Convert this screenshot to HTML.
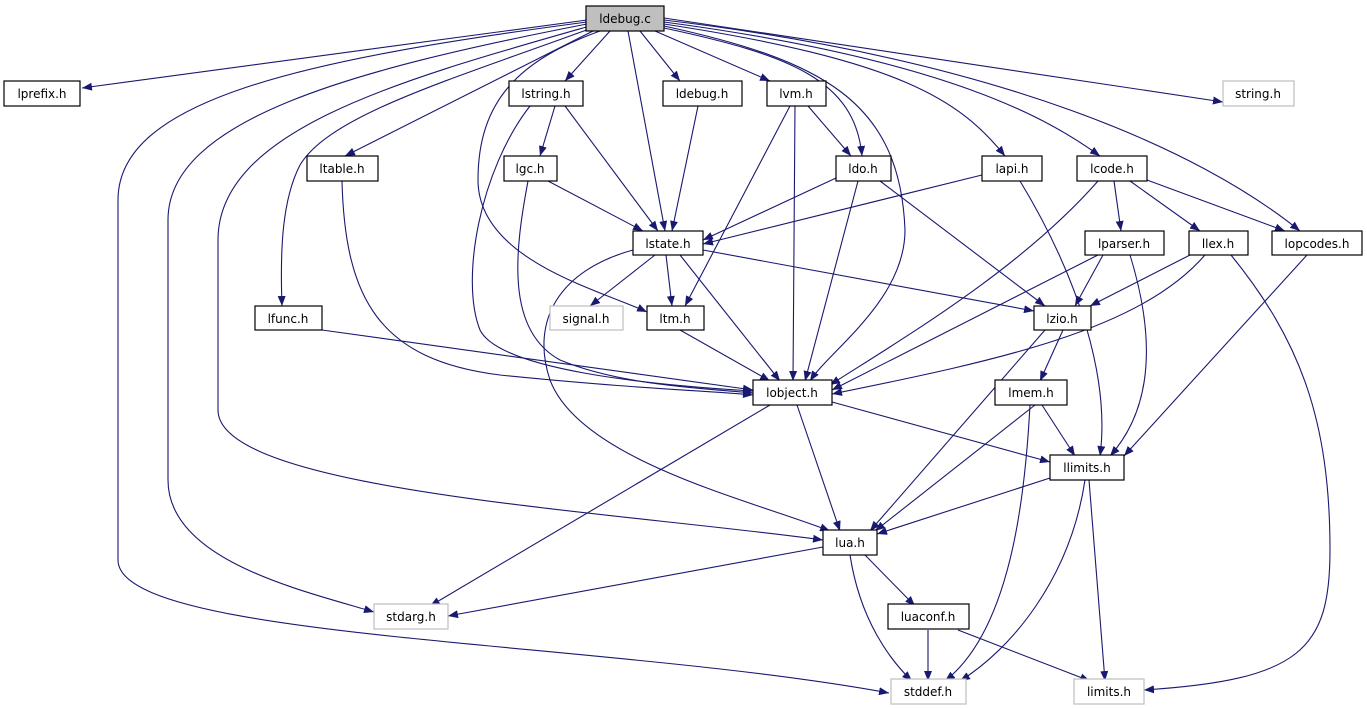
<!DOCTYPE html>
<html><head><meta charset="utf-8"><style>
html,body{margin:0;padding:0;background:#fff;}
svg{display:block;}
text{font-family:"DejaVu Sans","Liberation Sans",sans-serif;font-size:12px;fill:#000;}
</style></head><body>
<svg width="1367" height="709" viewBox="0 0 1367 709" xmlns="http://www.w3.org/2000/svg">
<defs>
<marker id="a" markerWidth="11" markerHeight="8" refX="10" refY="4" orient="auto" markerUnits="userSpaceOnUse">
<path d="M0,0 L10,4 L0,8 Z" fill="#191970"/>
</marker>
</defs>
<g fill="none" stroke="#191970" stroke-width="1.1" marker-end="url(#a)">
<path d="M587,20 L82,88"/>
<path d="M587,22 C300,60 118,100 118,200 L118,560 C118,640 600,640 889,693"/>
<path d="M587,24 C350,70 168,120 168,220 L168,480 C168,560 300,590 374,612"/>
<path d="M590,26 C400,80 218,130 218,240 L218,410 C218,490 600,510 823,540"/>
<path d="M592,28 C450,80 330,115 300,165 C282,200 280,250 282,306"/>
<path d="M595,30 L345,156"/>
<path d="M600,31 C520,60 478,100 478,180 C478,260 600,290 647,312"/>
<path d="M610,31 L565,81"/>
<path d="M628,31 L665,231"/>
<path d="M640,31 L680,81"/>
<path d="M655,31 L770,81"/>
<path d="M664,28 C790,55 855,80 862,156"/>
<path d="M664,26 C820,60 900,100 905,230 C905,300 830,350 810,381"/>
<path d="M664,24 C900,60 960,100 1005,156"/>
<path d="M664,22 C950,60 1050,120 1100,156"/>
<path d="M664,20 C1000,60 1200,150 1300,231"/>
<path d="M664,18 L1223,102"/>
<path d="M555,106 L540,156"/>
<path d="M565,106 L658,231"/>
<path d="M530,106 C480,170 460,280 480,330 C500,370 650,385 753,391"/>
<path d="M698,106 L672,231"/>
<path d="M808,106 L851,156"/>
<path d="M795,106 L793,381"/>
<path d="M790,106 L685,306"/>
<path d="M548,181 L643,231"/>
<path d="M528,181 C515,250 505,330 560,360 C620,385 700,388 753,393"/>
<path d="M342,181 C345,300 380,360 500,375 C650,390 700,390 753,395"/>
<path d="M836,178 L703,240"/>
<path d="M858,181 L805,381"/>
<path d="M880,181 L1045,306"/>
<path d="M982,175 L703,244"/>
<path d="M1020,181 C1080,280 1110,380 1100,456"/>
<path d="M1114,181 L1121,231"/>
<path d="M1130,181 L1200,231"/>
<path d="M1147,180 L1285,231"/>
<path d="M1098,181 C1020,270 900,340 830,385"/>
<path d="M655,255 L590,306"/>
<path d="M666,255 L672,306"/>
<path d="M680,255 L780,381"/>
<path d="M703,250 L1034,311"/>
<path d="M633,250 C560,270 530,320 550,380 C580,460 750,500 830,531"/>
<path d="M1103,255 L1075,306"/>
<path d="M1098,255 L832,390"/>
<path d="M1130,255 C1150,320 1160,400 1110,456"/>
<path d="M1190,255 L1090,306"/>
<path d="M1205,255 C1140,330 1000,360 832,394"/>
<path d="M1231,255 C1300,340 1330,420 1330,550 C1330,650 1300,680 1144,690"/>
<path d="M1307,255 L1124,456"/>
<path d="M322,330 L753,390"/>
<path d="M680,330 L770,381"/>
<path d="M1063,330 L1040,381"/>
<path d="M1045,330 L870,531"/>
<path d="M770,405 L430,606"/>
<path d="M797,405 L840,531"/>
<path d="M832,402 L1050,462"/>
<path d="M1042,405 L1075,456"/>
<path d="M1035,405 L875,531"/>
<path d="M1030,405 C1025,500 1010,630 945,681"/>
<path d="M1050,478 L877,534"/>
<path d="M1085,480 C1070,580 1010,650 960,681"/>
<path d="M1089,480 L1105,681"/>
<path d="M823,547 L448,616"/>
<path d="M865,555 L915,606"/>
<path d="M850,555 C860,620 890,660 912,681"/>
<path d="M928,630 L928,681"/>
<path d="M958,630 L1090,681"/>
</g>
<g stroke-width="1.2" text-anchor="middle">
<rect x="586" y="6" width="78" height="25" fill="#bfbfbf" stroke="#000"/><text x="625" y="23">ldebug.c</text>
<rect x="4" y="81" width="76" height="25" fill="#fff" stroke="#000"/><text x="42" y="98">lprefix.h</text>
<rect x="509" y="81" width="74" height="25" fill="#fff" stroke="#000"/><text x="546" y="98">lstring.h</text>
<rect x="663" y="81" width="79" height="25" fill="#fff" stroke="#000"/><text x="702" y="98">ldebug.h</text>
<rect x="767" y="81" width="59" height="25" fill="#fff" stroke="#000"/><text x="796" y="98">lvm.h</text>
<rect x="1223" y="81" width="71" height="25" fill="#fff" stroke="#bfbfbf"/><text x="1258" y="98">string.h</text>
<rect x="307" y="156" width="71" height="25" fill="#fff" stroke="#000"/><text x="342" y="173">ltable.h</text>
<rect x="504" y="156" width="53" height="25" fill="#fff" stroke="#000"/><text x="530" y="173">lgc.h</text>
<rect x="836" y="156" width="55" height="25" fill="#fff" stroke="#000"/><text x="863" y="173">ldo.h</text>
<rect x="982" y="156" width="60" height="25" fill="#fff" stroke="#000"/><text x="1012" y="173">lapi.h</text>
<rect x="1077" y="156" width="70" height="25" fill="#fff" stroke="#000"/><text x="1112" y="173">lcode.h</text>
<rect x="633" y="231" width="70" height="24" fill="#fff" stroke="#000"/><text x="668" y="248">lstate.h</text>
<rect x="1085" y="231" width="79" height="24" fill="#fff" stroke="#000"/><text x="1124" y="248">lparser.h</text>
<rect x="1189" y="231" width="59" height="24" fill="#fff" stroke="#000"/><text x="1218" y="248">llex.h</text>
<rect x="1272" y="231" width="90" height="24" fill="#fff" stroke="#000"/><text x="1317" y="248">lopcodes.h</text>
<rect x="255" y="306" width="67" height="24" fill="#fff" stroke="#000"/><text x="288" y="323">lfunc.h</text>
<rect x="550" y="306" width="73" height="24" fill="#fff" stroke="#bfbfbf"/><text x="586" y="323">signal.h</text>
<rect x="647" y="306" width="57" height="24" fill="#fff" stroke="#000"/><text x="675" y="323">ltm.h</text>
<rect x="1034" y="306" width="57" height="24" fill="#fff" stroke="#000"/><text x="1062" y="323">lzio.h</text>
<rect x="753" y="380" width="79" height="25" fill="#fff" stroke="#000"/><text x="792" y="397">lobject.h</text>
<rect x="995" y="380" width="72" height="25" fill="#fff" stroke="#000"/><text x="1031" y="397">lmem.h</text>
<rect x="1050" y="455" width="74" height="25" fill="#fff" stroke="#000"/><text x="1087" y="472">llimits.h</text>
<rect x="823" y="530" width="54" height="25" fill="#fff" stroke="#000"/><text x="850" y="547">lua.h</text>
<rect x="888" y="604" width="81" height="25" fill="#fff" stroke="#000"/><text x="928" y="621">luaconf.h</text>
<rect x="374" y="604" width="74" height="25" fill="#fff" stroke="#bfbfbf"/><text x="411" y="621">stdarg.h</text>
<rect x="891" y="679" width="75" height="25" fill="#fff" stroke="#bfbfbf"/><text x="928" y="696">stddef.h</text>
<rect x="1074" y="679" width="70" height="25" fill="#fff" stroke="#bfbfbf"/><text x="1109" y="696">limits.h</text>
</g>
</svg>
</body></html>
